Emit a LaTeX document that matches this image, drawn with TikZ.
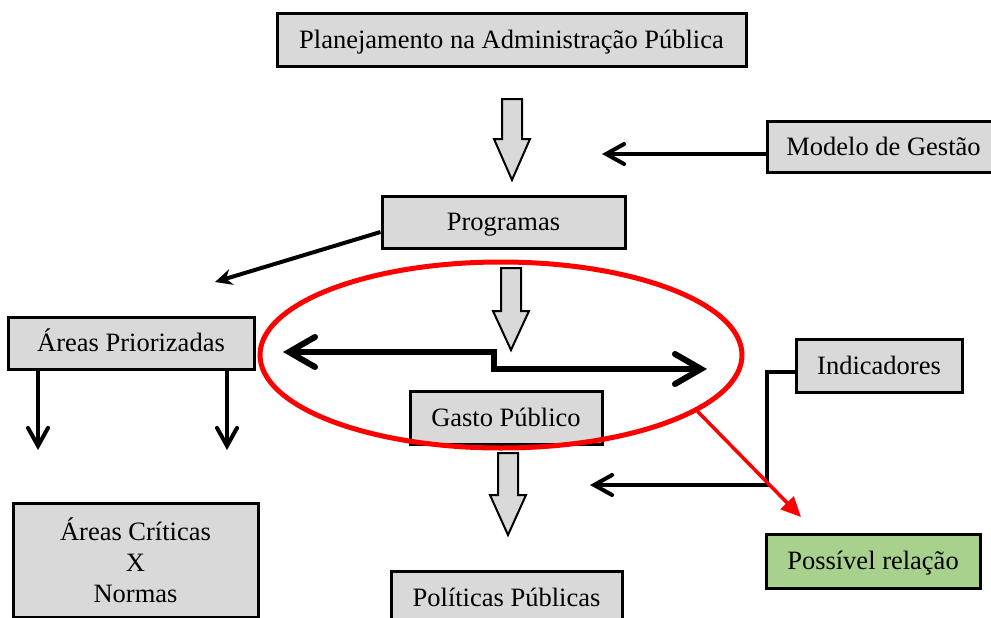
\documentclass[tikz,border=0pt]{standalone}
\usepackage{fontspec}
\setmainfont{Liberation Serif}
\usetikzlibrary{arrows.meta,shapes.geometric}
\definecolor{BoxClr}{rgb}{0.851,0.851,0.851}
\definecolor{RelClr}{rgb}{0.663,0.820,0.557}
\definecolor{FocoClr}{rgb}{1,0,0}

\newcommand{\blockarrow}[4]{% x centre, top, head start, tip
  \draw[line width=2pt,fill=BoxClr,line join=miter]
    (#1-10,#2) -- (#1+10,#2) -- (#1+10,#3) -- (#1+18,#3) -- (#1,#4)
    -- (#1-18,#3) -- (#1-10,#3) -- cycle;}

\begin{document}
\begin{tikzpicture}[x=1pt,y=-1pt,
  box/.style={draw,line width=3pt,fill=BoxClr,inner sep=0pt,
    font=\fontsize{26.5}{31}\selectfont,align=center},
  oneline/.style={text height=22pt,text depth=5pt},
  barb/.style={line width=4pt,line cap=round,
    -{Straight Barb[length=18pt,width=20pt,line cap=round]}},
  bigbarb/.style={line width=6pt,line cap=round,
    {Straight Barb[length=26pt,width=30pt,line cap=round]}-{Straight Barb[length=26pt,width=30pt,line cap=round]}},
  stealth/.style={line width=4pt,-{Stealth[length=17pt,width=16pt]}},
  redarr/.style={FocoClr,line width=3.5pt,-{Triangle[length=20pt,width=18pt]}}]
\useasboundingbox (0,0) rectangle (991,618);

\node[box,oneline,minimum width=469pt,minimum height=53pt] (plan) at (511.5,40) {Planejamento na Administração Pública};
\node[box,oneline,minimum width=233pt,minimum height=51pt] (modelo) at (883.5,146.5) {Modelo de Gestão};
\node[box,oneline,minimum width=243pt,minimum height=52pt] (prog) at (503.5,222) {Programas};
\node[box,oneline,minimum width=246pt,minimum height=52pt] (areas) at (131,343) {Áreas Priorizadas};
\node[box,minimum width=245pt,minimum height=114pt] (crit) at (135.5,560) {Áreas Críticas\\X\\Normas};
\node[box,oneline,minimum width=192pt,minimum height=53pt] (gasto) at (506,417.5) {Gasto Público};
\node[box,oneline,minimum width=231pt,minimum height=53pt] (pol) at (506.5,597.5) {Políticas Públicas};
\node[box,oneline,minimum width=166pt,minimum height=53pt] (ind) at (879,365.5) {Indicadores};
\node[box,oneline,fill=RelClr,minimum width=214pt,minimum height=54pt] (rel) at (873,561) {Possível relação};

\blockarrow{512}{99}{139}{180}
\blockarrow{511}{268}{311}{350}
\blockarrow{508}{453}{495}{535}

\node[draw=FocoClr,line width=5pt,ellipse,inner sep=0pt,
  minimum width=482pt,minimum height=186pt] (foco) at (501,355) {};

\coordinate (mg) at (602,154);
\coordinate (pa) at (215,282);
\coordinate (a1) at (38,450);
\coordinate (a2) at (227,450);
\coordinate (ic) at (590,485);
\coordinate (gl) at (283,352);
\coordinate (gr) at (707,369);
\coordinate (pr) at (801,517);

\draw[barb] ([yshift=-7.5pt]modelo.west) -- (mg);
\draw[stealth] ([yshift=-10pt]prog.west) -- (pa);
\draw[barb] (areas.south -| a1) -- (a1);
\draw[barb] (areas.south -| a2) -- (a2);
\draw[barb,line join=miter] ([yshift=-6.5pt]ind.west) -- ++(-28,0) |- (ic);
\draw[bigbarb,line join=miter] (gl) -- (494,352) -- (494,369) -- (gr);
\draw[redarr] (foco.-16) -- (pr);

\end{tikzpicture}
\end{document}
